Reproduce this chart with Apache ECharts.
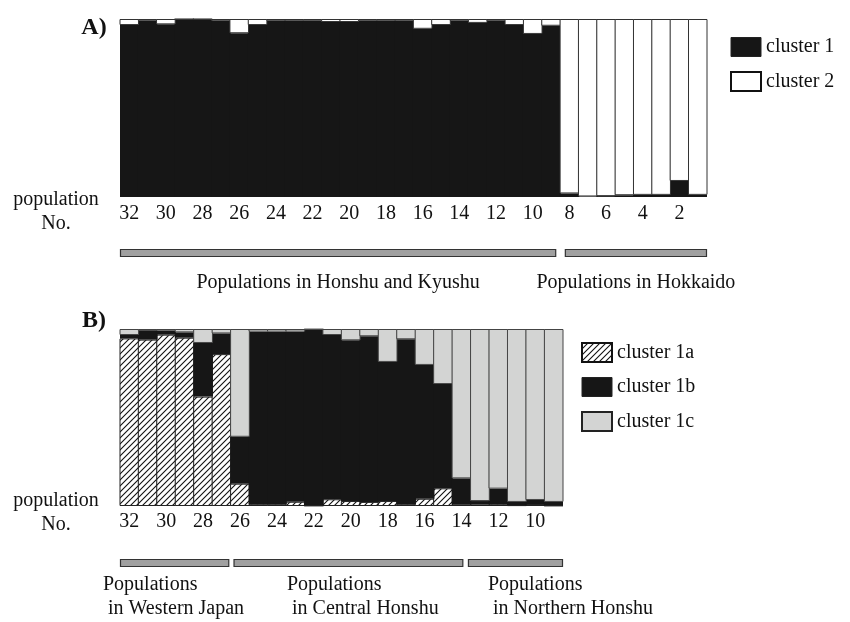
<!DOCTYPE html>
<html>
<head>
<meta charset="utf-8">
<script src="https://cdn.jsdelivr.net/npm/echarts@6/dist/echarts.min.js"></script>
<style>
  html, body { margin: 0; padding: 0; background: #fff; }
  #chart { width: 850px; height: 622px; }
</style>
</head>
<body>
<div id="chart"></div>
<script>
// Panel A: two clusters across 32 populations
const popsA = ['32','31','30','29','28','27','26','25','24','23','22','21','20','19','18','17',
               '16','15','14','13','12','11','10','9','8','7','6','5','4','3','2','1'];
const cluster1 = [0.966,0.99,0.97,0.998,0.998,0.99,0.92,0.966,0.99,0.99,0.99,0.983,0.983,0.99,0.99,0.99,
                  0.945,0.966,0.99,0.978,0.99,0.966,0.916,0.962,0.02,0.003,0.005,0.01,0.012,0.012,0.09,0.012];
const cluster2 = [0.034,0.01,0.03,0.002,0.002,0.01,0.08,0.034,0.01,0.01,0.01,0.017,0.017,0.01,0.01,0.01,
                  0.055,0.034,0.01,0.022,0.01,0.034,0.084,0.038,0.98,0.997,0.995,0.99,0.988,0.988,0.91,0.988];

// Panel B: cluster 1 split into three sub-clusters, populations 32..9
const popsB = ['32','31','30','29','28','27','26','25','24','23','22','21','20','19','18','17',
               '16','15','14','13','12','11','10','9'];
const cluster1a = [0.947,0.94,0.968,0.951,0.618,0.858,0.126,0.01,0.01,0.024,0.003,0.038,0.028,0.023,0.028,0.01,
                   0.041,0.10,0.007,0.008,0.01,0.005,0.006,0.003];
const cluster1b = [0.019,0.049,0.023,0.03,0.303,0.117,0.265,0.975,0.975,0.961,0.994,0.928,0.908,0.936,0.786,0.932,
                   0.756,0.589,0.149,0.02,0.088,0.018,0.028,0.02];
const cluster1c = [0.034,0.011,0.009,0.019,0.079,0.025,0.609,0.015,0.015,0.015,0.003,0.034,0.064,0.041,0.186,0.058,
                   0.203,0.311,0.844,0.972,0.902,0.977,0.966,0.977];

// Region groupings (start/end in bar units along each axis)
const groupsA = [
  { name: 'Populations in Honshu and Kyushu', from: 0, to: 23.78 },
  { name: 'Populations in Hokkaido', from: 24.25, to: 32 }
];
const groupsB = [
  { name: 'Populations\n in Western Japan', from: 0, to: 5.92 },
  { name: 'Populations\n in Central Honshu', from: 6.15, to: 18.6 },
  { name: 'Populations\n in Northern Honshu', from: 18.85, to: 24 }
];

const FONT = '"Liberation Serif", "DejaVu Serif", serif';
const FS = 20;
const BLACK = '#161616';
const GREY = '#d3d4d3';

// Diagonal hatch tile for cluster 1a
function hatchPattern() {
  const s = 6;
  const c = document.createElement('canvas');
  c.width = s; c.height = s;
  const g = c.getContext('2d');
  g.fillStyle = '#fff';
  g.fillRect(0, 0, s, s);
  g.strokeStyle = '#111';
  g.lineWidth = 1.1;
  g.beginPath();
  g.moveTo(0, s); g.lineTo(s, 0);
  g.moveTo(-1, 1); g.lineTo(1, -1);
  g.moveTo(s - 1, s + 1); g.lineTo(s + 1, s - 1);
  g.stroke();
  return { image: c, repeat: 'repeat' };
}
const HATCH = hatchPattern();

const chart = echarts.init(document.getElementById('chart'), null, { renderer: 'canvas' });

function catAxis(data, grid, margin) {
  return {
    type: 'category', gridIndex: grid, data: data,
    axisLine: { show: false }, axisTick: { show: false },
    axisLabel: { interval: 1, margin: margin, color: '#111', fontFamily: FONT, fontSize: FS }
  };
}
function valAxis(grid) {
  return { type: 'value', gridIndex: grid, min: 0, max: 1, show: false };
}
// Bars slightly wider than the band so neighbouring fills meet without seams
function bars(name, data, grid, stack, color, border, bw) {
  return {
    name: name, type: 'bar', xAxisIndex: grid, yAxisIndex: grid, stack: stack,
    data: data, barWidth: '107%', barGap: 0,
    itemStyle: { color: color, borderColor: border, borderWidth: bw },
    emphasis: { disabled: true }, animation: false
  };
}
const legendText = { fontFamily: FONT, fontSize: FS, color: '#111' };

chart.setOption({
  backgroundColor: '#fff',
  animation: false,
  grid: [
    { left: 120, top: 19, width: 587, height: 178 },
    { left: 120, top: 329, width: 443, height: 177 }
  ],
  xAxis: [catAxis(popsA, 0, 7), catAxis(popsB, 1, 6)],
  yAxis: [valAxis(0), valAxis(1)],
  legend: [
    {
      orient: 'vertical', left: 725, top: 32, itemWidth: 30, itemHeight: 19, itemGap: 14,
      selectedMode: false, icon: 'rect', textStyle: legendText,
      data: [
        { name: 'cluster 1', itemStyle: { borderColor: '#222', borderWidth: 1 } },
        { name: 'cluster 2', itemStyle: { borderColor: '#111', borderWidth: 2 } }
      ]
    },
    {
      orient: 'vertical', left: 576, top: 337, itemWidth: 30, itemHeight: 19, itemGap: 14,
      selectedMode: false, icon: 'rect', textStyle: legendText,
      data: [
        { name: 'cluster 1a', itemStyle: { borderColor: '#111', borderWidth: 2 } },
        { name: 'cluster 1b', itemStyle: { borderColor: '#222', borderWidth: 1 } },
        { name: 'cluster 1c', itemStyle: { borderColor: '#222', borderWidth: 2 } }
      ]
    }
  ],
  series: [
    bars('cluster 1', cluster1, 0, 'A', BLACK, BLACK, 0),
    bars('cluster 2', cluster2, 0, 'A', '#fff', '#333', 1),
    bars('cluster 1a', cluster1a, 1, 'B', HATCH, '#222', 1),
    bars('cluster 1b', cluster1b, 1, 'B', BLACK, BLACK, 0),
    bars('cluster 1c', cluster1c, 1, 'B', GREY, '#444', 1)
  ]
});

// Panel letters, row captions, and region brackets placed from the axes
function edgeX(axisIndex, pos) {
  const c0 = chart.convertToPixel({ xAxisIndex: axisIndex }, 0);
  const c1 = chart.convertToPixel({ xAxisIndex: axisIndex }, 1);
  const bw = c1 - c0;
  return c0 - bw / 2 + pos * bw;
}

const elements = [
  { type: 'text', x: 94, y: 28, style: { text: 'A)', font: 'bold 24px ' + FONT, fill: '#111', align: 'center', verticalAlign: 'middle' } },
  { type: 'text', x: 94, y: 321, style: { text: 'B)', font: 'bold 24px ' + FONT, fill: '#111', align: 'center', verticalAlign: 'middle' } }
];
[[200, 224], [501, 525]].forEach(function (ys) {
  elements.push({ type: 'text', x: 56, y: ys[0], style: { text: 'population', font: FS + 'px ' + FONT, fill: '#111', align: 'center', verticalAlign: 'middle' } });
  elements.push({ type: 'text', x: 56, y: ys[1], style: { text: 'No.', font: FS + 'px ' + FONT, fill: '#111', align: 'center', verticalAlign: 'middle' } });
});

function addGroups(groups, axisIndex, barY, textY, centered) {
  groups.forEach(function (g) {
    const x0 = edgeX(axisIndex, g.from);
    const x1 = edgeX(axisIndex, g.to);
    elements.push({
      type: 'rect', shape: { x: x0 + 0.5, y: barY + 0.5, width: x1 - x0 - 1, height: 7 },
      style: { fill: '#a0a0a0', stroke: '#333', lineWidth: 1.2 }
    });
    if (centered) {
      elements.push({ type: 'text', x: (x0 + x1) / 2, y: textY,
        style: { text: g.name, font: FS + 'px ' + FONT, fill: '#111', align: 'center', verticalAlign: 'middle' } });
    }
  });
}
addGroups(groupsA, 0, 249, 283, true);
addGroups(groupsB, 1, 559, 0, false);

// Two-line captions under panel B, left-aligned beneath their brackets
[103, 287, 488].forEach(function (lx, i) {
  elements.push({ type: 'text', x: lx, y: 573,
    style: { text: groupsB[i].name, font: FS + 'px ' + FONT, fill: '#111', align: 'left', verticalAlign: 'top', lineHeight: 24 } });
});

chart.setOption({ graphic: { elements: elements } });
</script>
</body>
</html>
